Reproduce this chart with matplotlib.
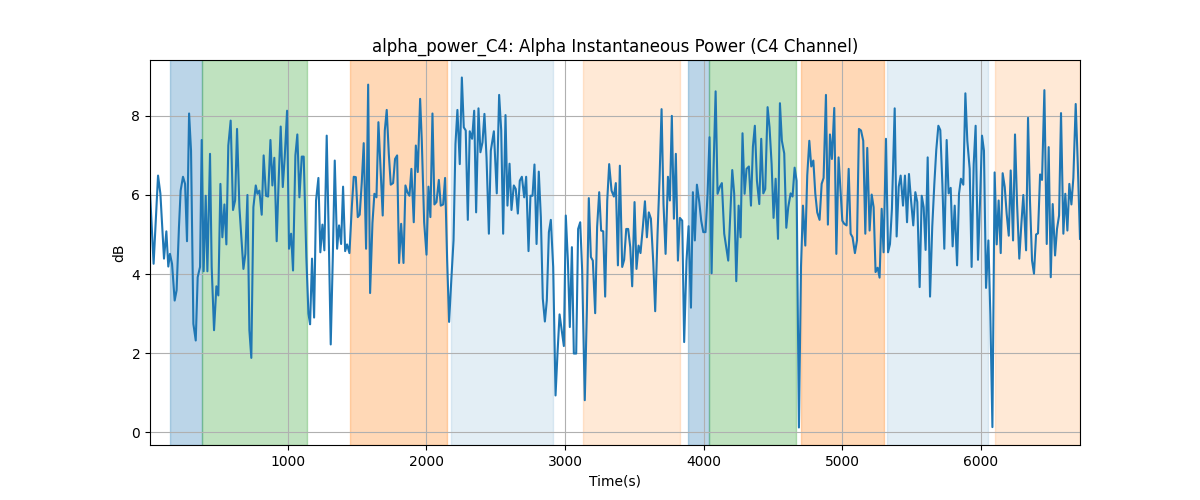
import numpy as np
import matplotlib
matplotlib.use("Agg")
import matplotlib.pyplot as plt

# alpha power samples (time in s, value in dB)
t = [6, 32, 64, 81, 107, 124, 138, 150, 165, 184, 198, 215, 227, 244, 259, 273, 288, 302,
     319, 336, 350, 367, 379, 393, 408, 420, 439, 451, 468, 485, 499, 514, 528, 543, 557,
     571, 588, 605, 620, 634, 651, 680, 694, 709, 723, 737, 752, 769, 781, 795, 812, 826,
     843, 858, 875, 889, 903, 920, 935, 949, 964, 978, 995, 1009, 1024, 1038, 1055, 1069,
     1084, 1101, 1115, 1134, 1149, 1161, 1175, 1190, 1204, 1221, 1235, 1250, 1264, 1281,
     1296, 1310, 1325, 1339, 1356, 1370, 1385, 1399, 1414, 1428, 1445, 1462, 1476, 1491,
     1505, 1519, 1534, 1548, 1565, 1580, 1594, 1611, 1625, 1640, 1654,
     1685, 1700, 1714, 1729, 1743, 1760, 1774, 1789, 1803, 1818, 1835, 1849, 1863, 1878,
     1892, 1909, 1924, 1938, 1955, 1967, 1984, 2001, 2015, 2029, 2044, 2058, 2073, 2090,
     2104, 2121, 2135, 2150, 2164, 2181, 2196, 2210, 2224, 2241, 2256, 2270, 2284, 2299,
     2313, 2330, 2345, 2359, 2376, 2390, 2405, 2419, 2434, 2451, 2465, 2487,
     2508, 2525, 2540, 2554, 2571, 2585, 2600, 2614, 2631, 2645, 2660, 2674, 2689, 2706,
     2720, 2737, 2751, 2766, 2780, 2795, 2811, 2826, 2840, 2855, 2869, 2884, 2898, 2915,
     2932, 2946, 2961, 2975, 2992, 3006, 3021, 3035, 3050, 3064, 3081, 3095, 3110, 3124,
     3143, 3158, 3172, 3187, 3201, 3218, 3232, 3247, 3261, 3276, 3290, 3305, 3319,
     3336, 3353, 3367, 3382, 3396, 3413, 3427, 3442, 3456, 3471, 3485, 3502, 3516, 3531,
     3545, 3562, 3577, 3591, 3605, 3620, 3637, 3651, 3668, 3682, 3697, 3711, 3726, 3743,
     3757, 3771, 3786, 3800, 3815, 3829, 3846, 3860, 3877, 3892, 3909, 3923, 3937, 3952,
     3969, 3983, 3998, 4014, 4029, 4043, 4058, 4072, 4087, 4101, 4118, 4132, 4149,
     4178, 4207, 4221, 4236, 4253, 4267, 4281, 4296, 4310, 4327, 4342, 4356, 4370, 4385,
     4402, 4416, 4431, 4445, 4462, 4476, 4491, 4505, 4520, 4537, 4551, 4565, 4582, 4597,
     4611, 4628, 4642, 4657, 4671, 4688, 4703, 4717, 4734, 4748, 4763, 4777, 4792, 4806,
     4820, 4837, 4852, 4866, 4883, 4897, 4912, 4926, 4943, 4958, 4974,
     5001, 5015, 5032, 5047, 5061, 5075, 5092, 5107, 5121, 5136, 5152, 5167, 5181, 5198,
     5213, 5227, 5241, 5256, 5270, 5285, 5299, 5316, 5331, 5345, 5359, 5379, 5393, 5408,
     5422, 5439, 5453, 5468, 5482, 5497, 5513, 5528, 5542, 5559, 5574, 5588, 5602, 5617,
     5634, 5650, 5665, 5679, 5694, 5708, 5723, 5737, 5754, 5768, 5783, 5797,
     5812, 5829, 5843, 5857, 5874, 5889, 5903, 5920, 5934, 5949, 5963, 5980, 5995, 6009,
     6023, 6038, 6055, 6069, 6084, 6100, 6115, 6129, 6144, 6158, 6173, 6187, 6202, 6216,
     6233, 6247, 6262, 6278, 6293, 6307, 6327, 6341, 6355, 6370, 6384, 6399, 6413, 6428,
     6442, 6459, 6476, 6490, 6505, 6519, 6536, 6550, 6565, 6579, 6596, 6610, 6625, 6639,
     6654, 6668, 6685, 6700, 6716]

db = [6.07, 4.26, 6.49, 6.03, 4.39, 5.08, 4.19, 4.51, 4.26, 3.33, 3.59, 5.19, 6.11, 6.46,
      6.28, 4.83, 8.06, 7.12, 2.74, 2.32, 3.92, 4.18, 7.39, 4.07, 5.98, 4.07, 7.04, 4.18,
      2.58, 3.69, 3.46, 6.28, 4.93, 5.76, 4.75, 7.25, 7.88, 5.62, 5.86, 7.67, 5.69, 4.13,
      4.51, 6.00, 2.58, 1.88, 5.69, 6.24, 6.03, 6.11, 5.50, 7.00,
      5.98, 5.96, 7.39, 6.24, 6.94, 4.83, 6.44, 7.73, 6.20, 6.95, 8.13, 4.64, 5.02, 4.09,
      7.00, 7.53, 5.94, 6.97, 6.97, 4.43, 3.00, 2.73, 4.39, 2.90, 5.86, 6.43, 4.55, 5.25,
      4.60, 7.50, 4.89, 2.22, 4.43, 6.87, 4.64, 5.23, 4.76, 6.21, 4.58, 4.75, 4.53, 5.69,
      6.46, 6.45, 5.44, 5.50, 6.32, 7.31, 4.64, 8.79, 3.52, 5.29, 6.03, 5.94, 7.84,
      5.48, 7.63, 8.15, 7.04, 6.26, 6.30, 6.91, 7.00, 4.28, 5.27, 4.28, 6.24, 6.07, 5.98,
      6.66, 5.31, 7.25, 6.58, 8.43, 7.37, 5.31, 4.49, 6.21, 5.44, 8.06, 5.76, 5.82, 6.38,
      5.73, 5.76, 6.43, 4.34, 2.79, 3.92, 4.85, 7.29, 8.15, 6.78, 8.97, 7.71, 7.63, 5.37,
      7.61, 7.42, 8.13, 5.56, 8.19, 7.08, 7.33, 8.05, 6.95, 5.02, 7.12, 7.61,
      6.04, 8.53, 7.63, 5.02, 8.02, 5.73, 6.79, 5.62, 6.24, 6.15, 5.53, 6.36, 6.46, 5.94,
      6.46, 4.58, 5.98, 5.98, 6.77, 4.76, 6.59, 5.44, 3.38, 2.80, 3.33, 5.06, 5.37, 4.18,
      0.93, 1.99, 2.98, 2.62, 2.18, 5.48, 4.34, 2.66, 4.68, 1.99, 1.99, 5.14, 5.31, 4.09,
      0.81, 3.08, 5.92, 4.43, 4.34, 3.01, 5.19, 6.07, 5.10, 5.08, 3.43, 5.86, 6.78,
      6.11, 5.96, 6.30, 4.22, 6.74, 4.18, 4.36, 5.14, 5.14, 4.68, 3.69, 5.82, 4.13, 4.72,
      4.53, 5.19, 5.84, 4.93, 5.56, 5.40, 4.30, 3.06, 5.02, 6.36, 8.17, 5.77, 4.51, 6.46,
      5.86, 8.00, 5.40, 7.04, 4.34, 5.42, 5.35, 2.28, 4.34, 5.21, 3.15, 6.07, 4.85, 6.26,
      5.82, 5.35, 5.06, 5.06, 6.03, 7.46, 4.02, 6.66, 8.62, 6.03, 6.21, 6.30, 5.02,
      4.34, 6.63, 6.03, 3.82, 5.73, 4.93, 7.56, 6.03, 6.66, 6.72, 5.73, 7.22, 7.75, 6.36,
      5.77, 7.42, 6.04, 6.15, 8.22, 7.71, 6.78, 5.42, 6.41, 4.89, 8.32, 7.37, 7.05, 5.17,
      5.69, 6.04, 5.96, 6.69, 6.36, 0.12, 4.18, 5.73, 4.72, 6.49, 7.37, 6.72, 6.87, 6.04,
      5.56, 5.37, 6.28, 6.43, 8.53, 5.25, 7.53, 6.91, 8.20, 4.51, 6.95,
      5.35, 5.27, 5.23, 6.66, 5.02, 4.93, 4.53, 4.85, 7.67, 7.63, 7.37, 5.02, 7.19, 5.10,
      6.01, 5.69, 4.05, 4.16, 3.91, 5.65, 4.55, 7.42, 4.55, 4.76, 5.65, 8.19, 4.95, 6.21,
      6.49, 5.73, 6.49, 5.31, 6.53, 5.86, 5.23, 6.07, 5.82, 3.67, 5.98, 5.69, 4.61, 6.95,
      3.43, 5.20, 6.28, 7.14, 7.75, 7.64, 6.28, 4.64, 7.39, 6.04, 6.18, 4.70,
      5.73, 4.22, 6.03, 6.41, 6.26, 8.57, 7.37, 6.66, 4.18, 6.78, 7.75, 4.36, 5.86, 7.50,
      7.12, 3.65, 4.85, 2.98, 0.13, 6.57, 4.75, 5.86, 4.53, 6.55, 6.20, 5.52, 4.97, 6.62,
      4.85, 7.53, 5.77, 4.39, 5.27, 6.00, 4.60, 7.95, 5.86, 4.34, 4.01, 5.00, 5.03, 6.52,
      6.38, 8.65, 4.76, 7.21, 3.92, 5.77, 4.47, 5.14, 5.48, 8.07, 5.02, 6.03, 5.10, 6.28,
      5.76, 6.43, 8.30, 6.78, 4.89]

# shaded segments: start, end, colour, alpha
seg_start = [148, 384, 1447, 2176, 3129, 3887, 4036, 4703, 5321, 6103]
seg_end = [384, 1142, 2147, 2917, 3829, 4036, 4666, 5304, 6050, 6716]
seg_color = ['tab:blue', 'tab:green', 'tab:orange', 'tab:blue', 'tab:orange',
             'tab:blue', 'tab:green', 'tab:orange', 'tab:blue', 'tab:orange']
seg_alpha = [0.3, 0.3, 0.3, 0.12, 0.17, 0.3, 0.3, 0.3, 0.12, 0.17]

fig, ax = plt.subplots(figsize=(12, 5), dpi=100)

for s, e, c, a in zip(seg_start, seg_end, seg_color, seg_alpha):
    ax.axvspan(s, e, color=c, alpha=a)

ax.plot(t, db, color='tab:blue', linewidth=1.5)
ax.set_xlim(t[0], t[-1])
ax.set_title('alpha_power_C4: Alpha Instantaneous Power (C4 Channel)')
ax.set_xlabel('Time(s)')
ax.set_ylabel('dB')
ax.grid(True)

fig.savefig('out.png')
